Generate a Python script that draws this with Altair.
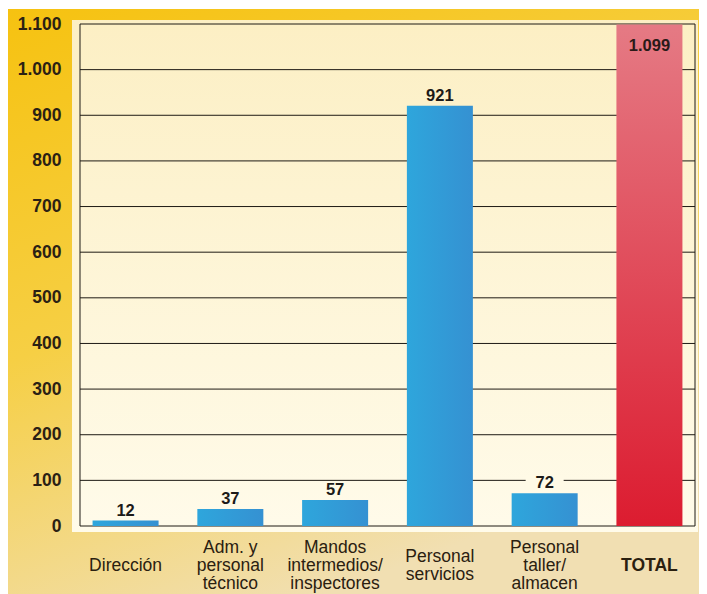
import altair as alt
import pandas as pd

categories = ["Dirección", "Adm. y|personal|técnico", "Mandos|intermedios/|inspectores",
              "Personal|servicios", "Personal|taller/|almacen", "TOTAL"]
values = [12, 37, 57, 921, 72, 1099]
y_ticks = list(range(0, 1101, 100))

W, H = 615, 502
FONT = "Liberation Sans"

df = pd.DataFrame({"cat": categories, "value": values})
grid_df = pd.DataFrame({"value": y_ticks})
one = pd.DataFrame({"a": [0]})

yscale = alt.Scale(domain=[0, 1100], nice=False, zero=True)
yaxis = alt.Axis(
    values=y_ticks, title=None, grid=False, ticks=False, tickSize=0, domain=False,
    labelExpr="replace(format(datum.value, ','), ',', '.')",
    labelFont=FONT, labelFontSize=17.5, labelFontWeight="bold", labelColor="#2b2114",
    labelPadding=19, zindex=1,
)
xscale = alt.Scale(domain=categories, paddingInner=0.37, paddingOuter=0.12)
xaxis = alt.Axis(title=None, ticks=False, domain=False, labels=False)

# page background (yellow gradient)
bg = alt.Chart(one).mark_rect(
    fill=alt.Gradient(gradient="linear", x1=0, y1=0, x2=0.45, y2=1, stops=[
        alt.GradientStop(offset=0, color="#f6c210"),
        alt.GradientStop(offset=0.5, color="#f6cf44"),
        alt.GradientStop(offset=1, color="#f1dfb2"),
    ])
).encode(x=alt.value(-72), x2=alt.value(W + 12), y=alt.value(-15), y2=alt.value(H + 70))

# plot panel (cream)
panel = alt.Chart(one).mark_rect(
    fill=alt.Gradient(gradient="linear", x1=0, y1=0, x2=0, y2=1, stops=[
        alt.GradientStop(offset=0, color="#fcefc4"),
        alt.GradientStop(offset=1, color="#fffbea"),
    ])
).encode(x=alt.value(-8), x2=alt.value(W + 3), y=alt.value(-4), y2=alt.value(H + 6))

grid = alt.Chart(grid_df).mark_rule(color="#1e1a14", strokeWidth=1).encode(
    y=alt.Y("value:Q", scale=yscale, axis=yaxis)
)
frame_l = alt.Chart(one).mark_rule(color="#1e1a14", strokeWidth=1).encode(
    x=alt.value(0), y=alt.value(0), y2=alt.value(H))
frame_r = alt.Chart(one).mark_rule(color="#1e1a14", strokeWidth=1).encode(
    x=alt.value(W), y=alt.value(0), y2=alt.value(H))

base = alt.Chart(df).encode(x=alt.X("cat:N", scale=xscale, axis=xaxis, sort=categories))

blue = base.transform_filter("datum.cat != 'TOTAL'").mark_bar(
    fill=alt.Gradient(gradient="linear", x1=0, y1=0, x2=1, y2=0, stops=[
        alt.GradientStop(offset=0, color="#2ea6dc"),
        alt.GradientStop(offset=1, color="#3591d2"),
    ])
).encode(y=alt.Y("value:Q", scale=yscale, axis=yaxis))

red = base.transform_filter("datum.cat == 'TOTAL'").mark_bar(
    fill=alt.Gradient(gradient="linear", x1=0, y1=0, x2=0, y2=1, stops=[
        alt.GradientStop(offset=0, color="#e57a84"),
        alt.GradientStop(offset=1, color="#dc1c30"),
    ])
).encode(y=alt.Y("value:Q", scale=yscale, axis=yaxis))

lab_bg = base.transform_filter("datum.cat != 'TOTAL'").transform_calculate(
    lo="datum.value + 7", hi="datum.value + 40"
).transform_filter("floor(datum.hi / 100) != floor(datum.lo / 100)").mark_bar(
    size=38, color="#fffae6"
).encode(y=alt.Y("lo:Q", scale=yscale, axis=yaxis), y2="hi:Q")

labels = base.transform_filter("datum.cat != 'TOTAL'").transform_calculate(
    lbl="replace(format(datum.value, ','), ',', '.')"
).mark_text(font=FONT, fontSize=16.5, fontWeight="bold", color="#1c1a18",
            baseline="bottom", dy=-2).encode(
    y=alt.Y("value:Q", scale=yscale, axis=yaxis), text="lbl:N")

total_label = base.transform_filter("datum.cat == 'TOTAL'").transform_calculate(
    lbl="replace(format(datum.value, ','), ',', '.')"
).mark_text(font=FONT, fontSize=16.5, fontWeight="bold", color="#2a1a18",
            baseline="middle", dy=22).encode(
    y=alt.Y("value:Q", scale=yscale, axis=yaxis), text="lbl:N")

# category labels (multi-line, vertically centred)
cat_base = base.transform_calculate(
    n="length(split(datum.cat, '|'))"
).transform_calculate(off="-9 * (datum.n - 1)")

cat_labels = cat_base.transform_filter("datum.cat != 'TOTAL'").mark_text(
    font=FONT, fontSize=17.5, color="#2a2010", baseline="middle", lineBreak="|", lineHeight=18
).encode(y=alt.value(H + 40), yOffset=alt.YOffset("off:Q", scale=None), text="cat:N")

cat_total = cat_base.transform_filter("datum.cat == 'TOTAL'").mark_text(
    font=FONT, fontSize=17.5, fontWeight="bold", color="#2a2010", baseline="middle"
).encode(y=alt.value(H + 40), text="cat:N")

chart = alt.layer(bg, panel, grid, frame_l, frame_r, blue, red, lab_bg, labels, total_label,
                  cat_labels, cat_total).properties(
    width=W, height=H,
    autosize=alt.AutoSizeParams(type="none"),
    padding={"left": 72, "top": 16, "right": 4, "bottom": 68},
    background="#ffffff",
).configure_view(stroke=None)

chart.save("out.html", embed_options={"renderer": "svg", "actions": False})
